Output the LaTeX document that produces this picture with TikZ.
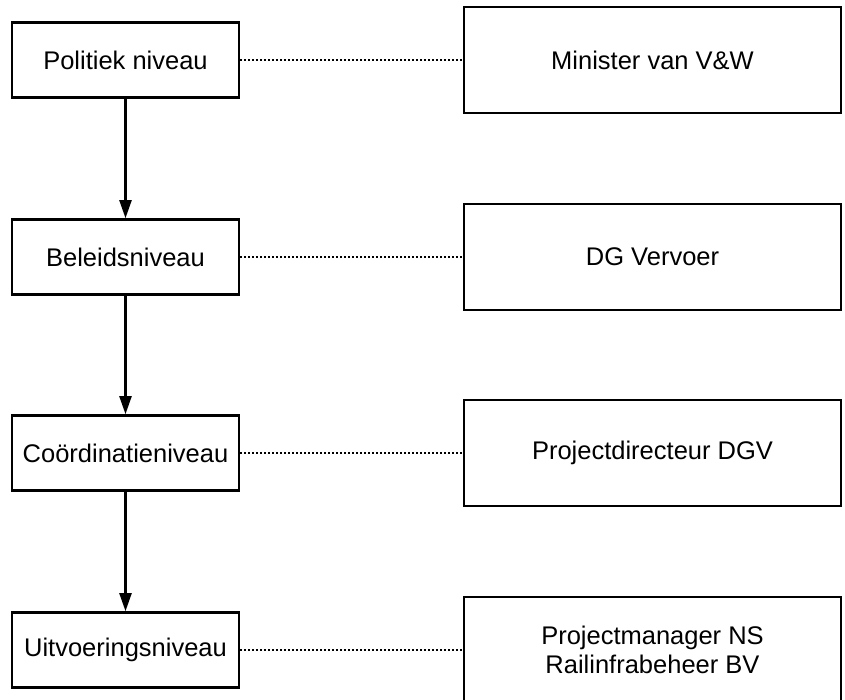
\documentclass[tikz,border=0pt]{standalone}
\usepackage{fontspec}
\setmainfont{Liberation Sans}
\usetikzlibrary{arrows.meta}
\tikzset{
	niveau/.style={draw, line width=2.6pt, minimum width=227pt, minimum height=75pt, inner sep=0pt, font=\fontsize{25.5}{29}\selectfont},
	actor/.style={draw, line width=2.6pt, minimum width=377pt, minimum height=106pt, inner sep=0pt, align=center, font=\fontsize{25.5}{29}\selectfont},
	stap/.style={line width=2.2pt, -{Triangle[length=18pt, width=12pt]}},
	koppel/.style={line width=1.2pt, dash pattern=on 2pt off 2pt}
}

\begin{document}
\begin{tikzpicture}[x=1pt, y=1pt]
		%%%%% START %%%%%
		\useasboundingbox (0, 0) rectangle (845, 699);
		
		\node[niveau] (politiek) at (125.5, 639) {Politiek niveau};
		\node[niveau] (beleid) at (125.5, 442) {Beleidsniveau};
		\node[niveau] (coord) at (125.5, 246) {Coördinatieniveau};
		\node[niveau] (uitvoer) at (125.5, 49) {Uitvoeringsniveau};
		
		\node[actor] (minister) at (652.5, 639) {Minister van V\&W};
		\node[actor] (dgv) at (652.5, 442) {DG Vervoer};
		\node[actor] (projdir) at (652.5, 246) {Projectdirecteur DGV};
		\node[actor] (projman) at (652.5, 49) {Projectmanager NS\\Railinfrabeheer BV};
		
		\draw[stap] (politiek) -- (beleid);
		\draw[stap] (beleid) -- (coord);
		\draw[stap] (coord) -- (uitvoer);
		
		\draw[koppel] (politiek) -- (minister);
		\draw[koppel] (beleid) -- (dgv);
		\draw[koppel] (coord) -- (projdir);
		\draw[koppel] (uitvoer) -- (projman);
		
		%%%%% END %%%%%
	\end{tikzpicture}
\end{document}
